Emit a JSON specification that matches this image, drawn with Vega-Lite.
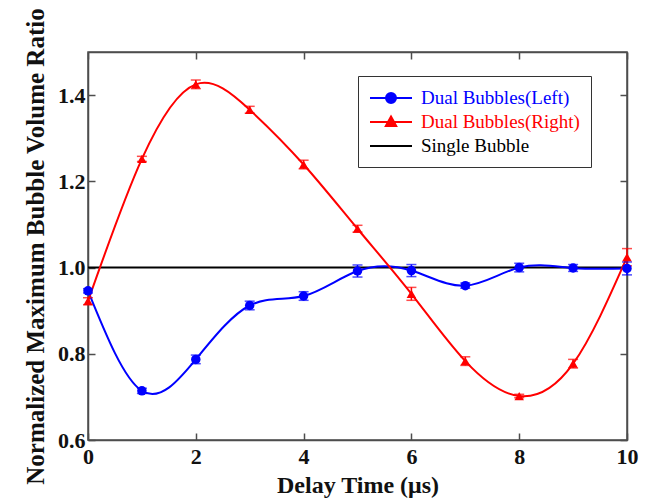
{
  "$schema": "https://vega.github.io/schema/vega-lite/v6.json",
  "width": 539,
  "height": 388,
  "autosize": {"type": "none"},
  "padding": {"left": 88, "top": 52, "right": 21, "bottom": 59},
  "background": "white",
  "config": {
    "view": {"stroke": "#4d4d4d", "strokeWidth": 1.5},
    "font": "Liberation Serif",
    "axis": {
      "labelFont": "Liberation Serif",
      "titleFont": "Liberation Serif",
      "labelFontWeight": "bold",
      "titleFontWeight": "bold",
      "labelFontSize": 22,
      "titleFontSize": 24,
      "labelColor": "#111111",
      "titleColor": "#111111",
      "domainColor": "#4d4d4d",
      "tickColor": "#4d4d4d",
      "domainWidth": 1.5,
      "tickWidth": 1.5,
      "tickSize": -7,
      "labelFlush": false,
      "grid": false
    },
    "legend": {"labelFont": "Liberation Serif", "labelFontSize": 19, "labelFontWeight": "normal"}
  },
  "datasets": {
    "main": [
      {"series": "Dual Bubbles(Left)", "x": 0, "y": 0.946, "lo": 0.941, "hi": 0.951},
      {"series": "Dual Bubbles(Left)", "x": 1, "y": 0.714, "lo": 0.708, "hi": 0.72},
      {"series": "Dual Bubbles(Left)", "x": 2, "y": 0.787, "lo": 0.777, "hi": 0.797},
      {"series": "Dual Bubbles(Left)", "x": 3, "y": 0.912, "lo": 0.902, "hi": 0.922},
      {"series": "Dual Bubbles(Left)", "x": 4, "y": 0.934, "lo": 0.924, "hi": 0.944},
      {"series": "Dual Bubbles(Left)", "x": 5, "y": 0.992, "lo": 0.978, "hi": 1.006},
      {"series": "Dual Bubbles(Left)", "x": 6, "y": 0.993, "lo": 0.979, "hi": 1.007},
      {"series": "Dual Bubbles(Left)", "x": 7, "y": 0.958, "lo": 0.952, "hi": 0.964},
      {"series": "Dual Bubbles(Left)", "x": 8, "y": 1.0, "lo": 0.99, "hi": 1.01},
      {"series": "Dual Bubbles(Left)", "x": 9, "y": 0.999, "lo": 0.991, "hi": 1.007},
      {"series": "Dual Bubbles(Left)", "x": 10, "y": 0.998, "lo": 0.983, "hi": 1.013},
      {"series": "Dual Bubbles(Right)", "x": 0, "y": 0.922, "lo": 0.914, "hi": 0.93},
      {"series": "Dual Bubbles(Right)", "x": 1, "y": 1.252, "lo": 1.246, "hi": 1.258},
      {"series": "Dual Bubbles(Right)", "x": 2, "y": 1.425, "lo": 1.415, "hi": 1.435},
      {"series": "Dual Bubbles(Right)", "x": 3, "y": 1.366, "lo": 1.358, "hi": 1.374},
      {"series": "Dual Bubbles(Right)", "x": 4, "y": 1.239, "lo": 1.229, "hi": 1.249},
      {"series": "Dual Bubbles(Right)", "x": 5, "y": 1.09, "lo": 1.082, "hi": 1.098},
      {"series": "Dual Bubbles(Right)", "x": 6, "y": 0.939, "lo": 0.924, "hi": 0.954},
      {"series": "Dual Bubbles(Right)", "x": 7, "y": 0.783, "lo": 0.773, "hi": 0.793},
      {"series": "Dual Bubbles(Right)", "x": 8, "y": 0.702, "lo": 0.698, "hi": 0.706},
      {"series": "Dual Bubbles(Right)", "x": 9, "y": 0.777, "lo": 0.767, "hi": 0.787},
      {"series": "Dual Bubbles(Right)", "x": 10, "y": 1.024, "lo": 1.004, "hi": 1.044}
    ],
    "single": [
      {"series": "Single Bubble", "x": 0, "y": 1.0},
      {"series": "Single Bubble", "x": 10, "y": 1.0}
    ]
  },
  "layer": [
    {
      "data": {"name": "single"},
      "mark": {"type": "line", "strokeWidth": 2},
      "encoding": {
        "x": {"field": "x", "type": "quantitative", "scale": {"domain": [0, 10], "nice": false},
          "axis": {"orient": "bottom", "values": [0, 2, 4, 6, 8, 10], "title": "Delay Time (μs)", "labelPadding": 13, "titlePadding": 6}},
        "y": {"field": "y", "type": "quantitative", "scale": {"domain": [0.6, 1.5], "nice": false, "zero": false},
          "axis": {"orient": "left", "values": [0.6, 0.8, 1.0, 1.2, 1.4], "format": ".1f", "title": "Normalized Maximum Bubble Volume Ratio", "titleFontSize": 25, "labelPadding": 10, "titlePadding": 9}},
        "color": {
          "field": "series", "type": "nominal",
          "scale": {"domain": ["Dual Bubbles(Left)", "Dual Bubbles(Right)", "Single Bubble"], "range": ["#0000ff", "#ff0000", "#000000"]},
          "legend": {
            "orient": "none", "legendX": 270, "legendY": 24, "title": null, "direction": "vertical",
            "labelFont": "Liberation Serif", "labelFontSize": 19, "labelFontWeight": "normal", "labelLimit": 300,
            "symbolSize": 400, "symbolStrokeWidth": 2, "labelOffset": 30, "rowPadding": 3,
            "padding": 11, "strokeColor": "#333333", "fillColor": "white",
            "encode": {
              "symbols": {"update": {
                "shape": {"signal": "datum.value === 'Dual Bubbles(Left)' ? 'M-1,0H3.2M0.6,0A0.5,0.5 0 1 1 1.6,0A0.5,0.5 0 1 1 0.6,0Z' : datum.value === 'Dual Bubbles(Right)' ? 'M-1,0H3.2M1.1,-0.55L1.62,0.4L0.58,0.4Z' : 'M-1,0H3.2'"},
                "fill": {"signal": "datum.value === 'Dual Bubbles(Left)' ? '#0000ff' : datum.value === 'Dual Bubbles(Right)' ? '#ff0000' : '#000000'"},
                "stroke": {"signal": "datum.value === 'Dual Bubbles(Left)' ? '#0000ff' : datum.value === 'Dual Bubbles(Right)' ? '#ff0000' : '#000000'"},
                "fillOpacity": {"value": 1},
                "opacity": {"value": 1}
              }},
              "labels": {"update": {
                "fill": {"signal": "datum.value === 'Dual Bubbles(Left)' ? '#0000ff' : datum.value === 'Dual Bubbles(Right)' ? '#ff0000' : '#000000'"},
                "font": {"value": "Liberation Serif"}
              }}
            }
          }
        }
      }
    },
    {
      "data": {"name": "main"},
      "mark": {"type": "line", "strokeWidth": 2, "interpolate": "natural"},
      "encoding": {
        "x": {"field": "x", "type": "quantitative", "axis": null},
        "y": {"field": "y", "type": "quantitative", "axis": null},
        "color": {"field": "series", "type": "nominal", "legend": null}
      }
    },
    {
      "data": {"name": "main"},
      "mark": {"type": "rule", "strokeWidth": 1.5},
      "encoding": {
        "x": {"field": "x", "type": "quantitative", "axis": null},
        "y": {"field": "lo", "type": "quantitative", "axis": null},
        "y2": {"field": "hi"},
        "color": {"field": "series", "type": "nominal", "legend": null}
      }
    },
    {
      "data": {"name": "main"},
      "mark": {"type": "tick", "orient": "horizontal", "size": 10, "thickness": 1.5},
      "encoding": {
        "x": {"field": "x", "type": "quantitative", "axis": null},
        "y": {"field": "lo", "type": "quantitative", "axis": null},
        "color": {"field": "series", "type": "nominal", "legend": null}
      }
    },
    {
      "data": {"name": "main"},
      "mark": {"type": "tick", "orient": "horizontal", "size": 10, "thickness": 1.5},
      "encoding": {
        "x": {"field": "x", "type": "quantitative", "axis": null},
        "y": {"field": "hi", "type": "quantitative", "axis": null},
        "color": {"field": "series", "type": "nominal", "legend": null}
      }
    },
    {
      "data": {"name": "main"},
      "mark": {"type": "point", "filled": true, "opacity": 1},
      "encoding": {
        "x": {"field": "x", "type": "quantitative", "axis": null},
        "y": {"field": "y", "type": "quantitative", "axis": null},
        "color": {"field": "series", "type": "nominal", "legend": null},
        "shape": {"field": "series", "type": "nominal", "legend": null,
          "scale": {"domain": ["Dual Bubbles(Left)", "Dual Bubbles(Right)"], "range": ["circle", "triangle-up"]}},
        "size": {"value": 90}
      }
    },
    {
      "data": {"name": "single"},
      "mark": {"type": "point", "opacity": 0},
      "encoding": {
        "x": {"field": "x", "type": "quantitative",
          "axis": {"orient": "top", "values": [0, 2, 4, 6, 8, 10], "labels": false, "title": null}},
        "y": {"field": "y", "type": "quantitative",
          "axis": {"orient": "right", "values": [0.6, 0.8, 1.0, 1.2, 1.4], "labels": false, "title": null}}
      }
    }
  ],
  "resolve": {"axis": {"x": "independent", "y": "independent"}}
}
